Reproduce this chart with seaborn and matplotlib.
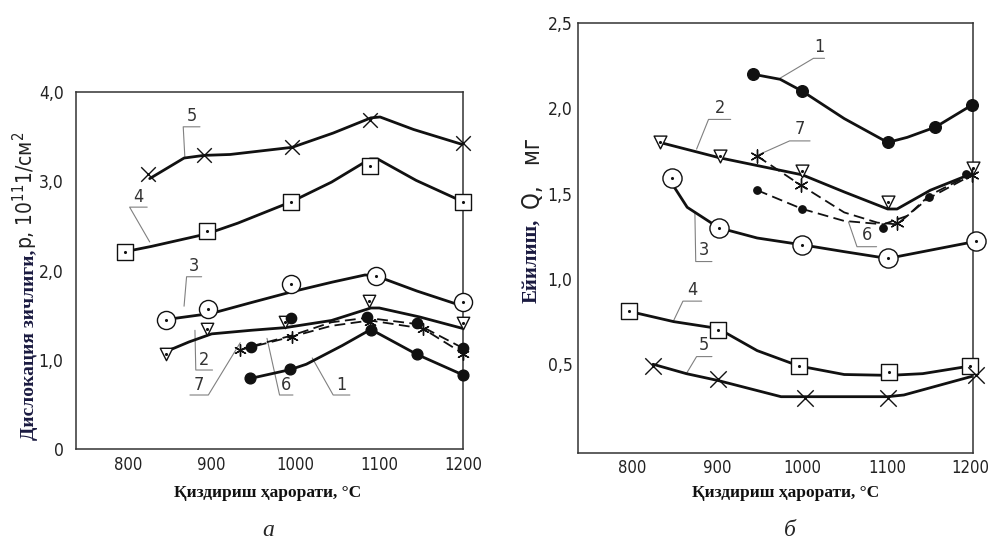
import numpy as np
import pandas as pd
import seaborn as sns
import matplotlib.pyplot as plt
from matplotlib import font_manager
from matplotlib.transforms import ScaledTranslation

# ---- data ----
# panel a: dislocation density, 10^11 1/cm^2
a1_x = [946, 994, 1090, 1145, 1200]
a1_y = [0.80, 0.90, 1.33, 1.06, 0.83]
a1_cx = [946, 994, 1013, 1056, 1090, 1145, 1200]
a1_cy = [0.79, 0.89, 0.95, 1.16, 1.34, 1.06, 0.83]

a2_x = [845, 894, 988, 1088, 1200]
a2_y = [1.07, 1.35, 1.42, 1.66, 1.41]
a2_cx = [845, 873, 900, 947, 988, 1043, 1090, 1100, 1148, 1200]
a2_cy = [1.09, 1.20, 1.29, 1.33, 1.36, 1.44, 1.58, 1.58, 1.48, 1.35]

a3_x = [845, 895, 995, 1096, 1200]
a3_y = [1.45, 1.57, 1.85, 1.94, 1.65]
a3_cx = [845, 900, 947, 995, 1044, 1083, 1096, 1145, 1200]
a3_cy = [1.45, 1.52, 1.64, 1.76, 1.87, 1.95, 1.94, 1.77, 1.60]

a4_x = [796, 894, 995, 1089, 1200]
a4_y = [2.21, 2.44, 2.77, 3.17, 2.77]
a4_cx = [796, 828, 894, 931, 995, 1043, 1089, 1098, 1144, 1200]
a4_cy = [2.21, 2.27, 2.41, 2.53, 2.77, 2.99, 3.25, 3.25, 3.01, 2.77]

a5_x = [824, 891, 996, 1089, 1200]
a5_y = [3.08, 3.29, 3.38, 3.69, 3.43]
a5_cx = [826, 867, 891, 922, 996, 1045, 1090, 1101, 1141, 1200]
a5_cy = [3.03, 3.26, 3.29, 3.30, 3.38, 3.54, 3.71, 3.72, 3.58, 3.41]

a6_x = [947, 995, 1085, 1145, 1200]
a6_y = [1.14, 1.47, 1.48, 1.41, 1.13]
a6_cx = [947, 995, 1043, 1085, 1145, 1200]
a6_cy = [1.15, 1.27, 1.42, 1.47, 1.40, 1.13]

a7_x = [934, 996, 1089, 1152, 1200]
a7_y = [1.11, 1.26, 1.42, 1.34, 1.07]
a7_cx = [934, 996, 1043, 1089, 1152, 1200]
a7_cy = [1.11, 1.26, 1.38, 1.44, 1.35, 1.07]

# panel b: wear, Q, mg
b1_x = [942, 1000, 1100, 1156, 1199]
b1_y = [2.20, 2.10, 1.80, 1.89, 2.02]
b1_cx = [942, 974, 1000, 1049, 1100, 1123, 1156, 1199]
b1_cy = [2.20, 2.17, 2.10, 1.94, 1.80, 1.83, 1.89, 2.02]

b2_x = [833, 903, 1000, 1100, 1200]
b2_y = [1.80, 1.72, 1.63, 1.45, 1.65]
b2_cx = [833, 903, 1000, 1049, 1100, 1111, 1150, 1200]
b2_cy = [1.80, 1.71, 1.61, 1.51, 1.41, 1.41, 1.52, 1.62]

b3_x = [847, 902, 1000, 1100, 1203]
b3_y = [1.59, 1.30, 1.20, 1.12, 1.22]
b3_cx = [847, 865, 902, 947, 1000, 1049, 1100, 1203]
b3_cy = [1.56, 1.42, 1.30, 1.24, 1.20, 1.16, 1.12, 1.22]

b4_x = [797, 901, 996, 1102, 1197]
b4_y = [0.81, 0.70, 0.49, 0.455, 0.49]
b4_cx = [797, 849, 901, 947, 996, 1049, 1102, 1141, 1197]
b4_cy = [0.81, 0.75, 0.71, 0.58, 0.49, 0.44, 0.435, 0.445, 0.49]

b5_x = [825, 901, 1003, 1100, 1203]
b5_y = [0.49, 0.415, 0.30, 0.305, 0.435]
b5_cx = [825, 864, 901, 975, 1100, 1119, 1203]
b5_cy = [0.50, 0.445, 0.405, 0.31, 0.31, 0.32, 0.435]

b6_x = [947, 1000, 1094, 1149, 1192]
b6_y = [1.52, 1.41, 1.30, 1.48, 1.615]
b6_cx = [947, 1000, 1049, 1095, 1123, 1149, 1200]
b6_cy = [1.52, 1.41, 1.34, 1.32, 1.37, 1.49, 1.62]

b7_x = [947, 998, 1111, 1199]
b7_y = [1.72, 1.55, 1.325, 1.61]
b7_cx = [947, 974, 998, 1049, 1088, 1111, 1147, 1199]
b7_cy = [1.72, 1.63, 1.55, 1.39, 1.33, 1.32, 1.47, 1.61]

x_ticks = [800, 900, 1000, 1100, 1200]
a_yticks = [0, 1, 2, 3, 4]
a_yticklabels = ['0', '1,0', '2,0', '3,0', '4,0']
b_yticks = [0.5, 1.0, 1.5, 2.0, 2.5]
b_yticklabels = ['0,5', '1,0', '1,5', '2,0', '2,5']

# curve number callouts: (curve point, elbow, end of shelf)
a_callouts = {
    '5': [(868, 3.26), (866, 3.61), (886, 3.61)],
    '4': [(826, 2.32), (802, 2.71), (823, 2.71)],
    '3': [(867, 1.60), (870, 1.93), (888, 1.93)],
    '2': [(880, 1.33), (881, 0.885), (901, 0.885)],
    '7': [(934, 1.19), (896, 0.605), (874, 0.605)],
    '6': [(966, 1.24), (981, 0.605), (997, 0.605)],
    '1': [(1020, 1.02), (1045, 0.605), (1065, 0.605)],
}
b_callouts = {
    '1': [(974, 2.177), (1013, 2.293), (1026, 2.293)],
    '2': [(876, 1.761), (890, 1.935), (916, 1.935)],
    '7': [(946, 1.722), (985, 1.809), (1009, 1.809)],
    '6': [(1054, 1.335), (1064, 1.189), (1087, 1.189)],
    '3': [(874, 1.393), (875, 1.102), (894, 1.102)],
    '4': [(849, 0.755), (860, 0.87), (882, 0.87)],
    '5': [(864, 0.445), (876, 0.545), (894, 0.545)],
}

sns.set_style('white')
names = {f.name for f in font_manager.fontManager.ttflist}
narrow = 'Liberation Sans Narrow' if 'Liberation Sans Narrow' in names else 'DejaVu Sans'
plt.rcParams['font.family'] = [narrow, 'DejaVu Sans']
plt.rcParams['font.stretch'] = 'condensed'
plt.rcParams['mathtext.fontset'] = 'custom'
plt.rcParams['mathtext.rm'] = narrow + ':stretch=condensed'
plt.rcParams['mathtext.it'] = narrow + ':stretch=condensed'

INK = '#111111'
NAVY = '#1a1a40'
W, H = 989, 547
fig = plt.figure(figsize=(W / 100, H / 100), dpi=100)
ax_a = fig.add_axes([76 / W, 1 - 449 / H, 387 / W, 357 / H])
ax_b = fig.add_axes([578 / W, 1 - 453 / H, 395 / W, 430 / H])


def solid(ax, x, y):
    sns.lineplot(x=x, y=y, ax=ax, sort=False, estimator=None, color=INK,
                 linewidth=2.0, zorder=2)


def dashed(ax, x, y):
    sns.lineplot(x=x, y=y, ax=ax, sort=False, estimator=None, color=INK,
                 linewidth=1.3, linestyle=(0, (6, 3)), zorder=2)


def pts(ax, x, y, marker, s, face='white', lw=1.0, dot=True):
    sns.scatterplot(x=x, y=y, ax=ax, marker=marker, s=s, facecolor=face,
                    edgecolor=INK, linewidth=lw, zorder=3, clip_on=False)
    if dot:
        sns.scatterplot(x=x, y=y, ax=ax, marker='o', s=5, color=INK,
                        linewidth=0, zorder=4, clip_on=False)


def cross(ax, x, y, marker, s, lw):
    sns.scatterplot(x=x, y=y, ax=ax, marker=marker, s=s, color=INK,
                    linewidth=lw, zorder=3, clip_on=False)


# ---- panel a ----
solid(ax_a, a5_cx, a5_cy)
solid(ax_a, a4_cx, a4_cy)
solid(ax_a, a3_cx, a3_cy)
solid(ax_a, a2_cx, a2_cy)
solid(ax_a, a1_cx, a1_cy)
dashed(ax_a, a6_cx, a6_cy)
dashed(ax_a, a7_cx, a7_cy)
cross(ax_a, a5_x, a5_y, 'x', 110, 1.0)
pts(ax_a, a4_x, a4_y, 's', 130)
pts(ax_a, a3_x, a3_y, 'o', 170)
pts(ax_a, a2_x, a2_y, 'v', 80)
pts(ax_a, a1_x, a1_y, 'o', 60, face=INK, dot=False)
pts(ax_a, a6_x, a6_y, 'o', 55, face=INK, dot=False)
cross(ax_a, a7_x, a7_y, (6, 2, 0), 70, 1.0)

# ---- panel b ----
solid(ax_b, b1_cx, b1_cy)
solid(ax_b, b2_cx, b2_cy)
solid(ax_b, b3_cx, b3_cy)
solid(ax_b, b4_cx, b4_cy)
solid(ax_b, b5_cx, b5_cy)
dashed(ax_b, b6_cx, b6_cy)
dashed(ax_b, b7_cx, b7_cy)
pts(ax_b, b1_x, b1_y, 'o', 70, face=INK, dot=False)
pts(ax_b, b2_x, b2_y, 'v', 85)
pts(ax_b, b3_x, b3_y, 'o', 190)
pts(ax_b, b4_x, b4_y, 's', 140)
cross(ax_b, b5_x, b5_y, 'x', 140, 1.0)
pts(ax_b, b6_x, b6_y, 'o', 28, face=INK, dot=False)
cross(ax_b, b7_x, b7_y, (6, 2, 0), 90, 1.0)


def callouts(ax, table):
    for label, ((x0, y0), (x1, y1), (x2, _)) in table.items():
        ax.plot([x0, x1, x2], [y0, y1, y1], color='#808080', lw=0.8,
                zorder=1, clip_on=False)
        ax.text((x1 + x2) / 2, y1 + 0.015, label, ha='center', va='bottom',
                fontsize=13, color='#333333')


callouts(ax_a, a_callouts)
callouts(ax_b, b_callouts)

for ax in (ax_a, ax_b):
    ax.set_xlim(738, 1200)
    ax.set_xticks(x_ticks)
    ax.set_xticklabels([str(t) for t in x_ticks])
    ax.set_xlabel('')
    ax.set_ylabel('')
    for sp in ax.spines.values():
        sp.set_visible(True)
        sp.set_color('#333333')
        sp.set_linewidth(1.1)
    ax.tick_params(direction='in', length=7, width=0.9, colors='#333333',
                   labelsize=12.5, labelcolor='#222222')
    ax.tick_params(axis='x', labelsize=12)

ax_a.set_ylim(0, 4)
ax_a.set_yticks(a_yticks)
ax_a.set_yticklabels(a_yticklabels)
ax_a.set_yticks([0.5, 1.5, 2.5, 3.5], minor=True)
ax_a.tick_params(axis='y', which='minor', direction='in', length=5,
                 width=0.9, colors='#333333')
ax_a.tick_params(axis='y', pad=9)
ax_a.tick_params(axis='x', pad=5)

ax_b.set_xlim(737, 1200)
ax_b.set_ylim(-0.02, 2.5)
ax_b.set_yticks(b_yticks)
ax_b.set_yticklabels(b_yticklabels)
ax_b.tick_params(axis='y', pad=4)
ax_b.tick_params(axis='x', pad=4)
# the last label sits right at the page edge, nudge it in a little
last = ax_b.get_xticklabels()[-1]
last.set_transform(last.get_transform() + ScaledTranslation(-3 / 100, 0, fig.dpi_scale_trans))


def fx(px):
    return px / W


def fy(py):
    return 1 - py / H


serif_bold = dict(family=['Liberation Serif', 'DejaVu Serif'], weight='bold',
                  stretch='normal')

# y labels: bold serif part + drafting-font part
fig.text(fx(30), fy(440), 'Дислокация зичлиги,', rotation=90, ha='center',
         va='bottom', fontsize=14, color=NAVY, **serif_bold)
fig.text(fx(25), fy(249), 'р, 10$^{11}$1/см$^{2}$', rotation=90, ha='center',
         va='bottom', fontsize=15, color='#222222')
fig.text(fx(531), fy(303), 'Ейилиш,', rotation=90, ha='center', va='bottom',
         fontsize=15, color=NAVY, **serif_bold)
fig.text(fx(533), fy(209), 'Q,   мг', rotation=90, ha='center', va='bottom',
         fontsize=17, color='#222222')

# x labels
fig.text(fx(268), fy(493), 'Қиздириш ҳарорати, °С', ha='center', va='center',
         fontsize=12.5, color='#111111', **serif_bold)
fig.text(fx(786), fy(493), 'Қиздириш ҳарорати, °С', ha='center', va='center',
         fontsize=12.5, color='#111111', **serif_bold)

# panel letters
fig.text(fx(268), fy(531), 'а', ha='center', va='center', fontsize=17,
         style='italic', family=['Liberation Serif', 'DejaVu Serif'])
fig.text(fx(790), fy(531), 'б', ha='center', va='center', fontsize=17,
         style='italic', family=['Liberation Serif', 'DejaVu Serif'])

fig.savefig('out.png', dpi=100, facecolor='white')
